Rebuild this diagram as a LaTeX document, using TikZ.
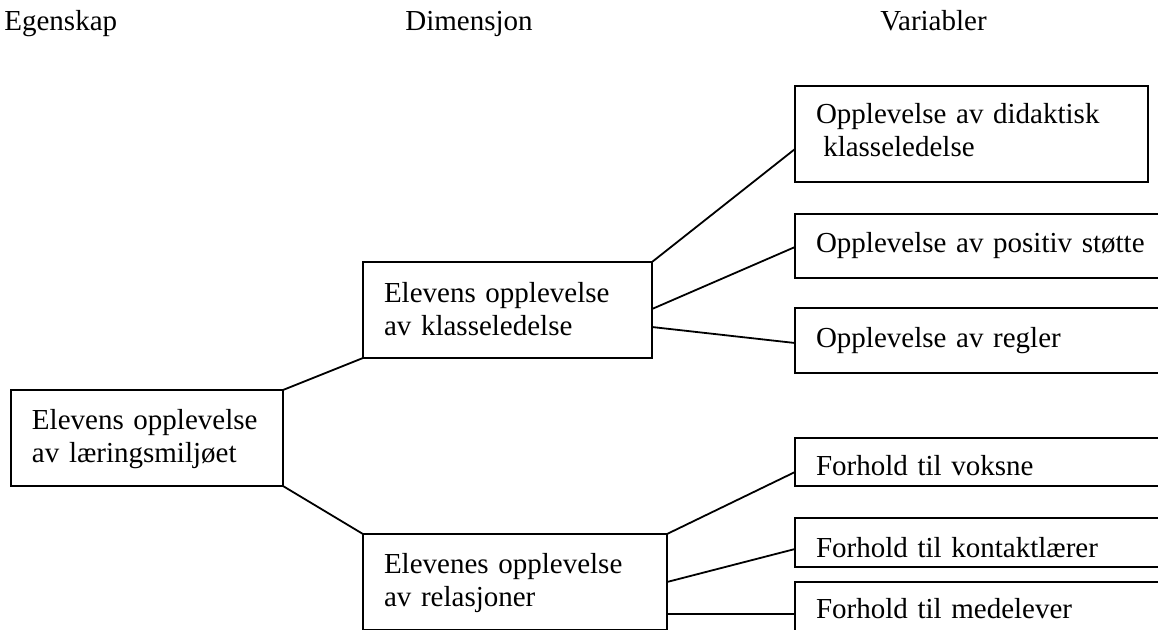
\documentclass[tikz,border=0pt]{standalone}
\usepackage{fontspec}
\setmainfont{Liberation Serif}
\usetikzlibrary{positioning,calc}
\tikzset{box/.style={draw, line width=0.9pt, align=left, anchor=north west, inner xsep=10.5pt, inner ysep=0pt, outer sep=0pt}}
\tikzset{link/.style={line width=0.9pt}}
\tikzset{head/.style={anchor=base west, inner sep=0pt}}

\begin{document}
\begin{tikzpicture}[x=0.5pt, y=-0.5pt, font=\fontsize{14.5}{16.5}\selectfont]
        \useasboundingbox (0,0) rectangle (1158,629);
        \clip (0,0) rectangle (1158,629);
        \tikzset{var/.style={box, text width=179pt}}

        %%% HEADINGS %%%
        \node[head] (hegen) at (4,30) {Egenskap};
        \node[head] (hdim) at (405,30) {Dimensjon};
        \node[head] (hvar) at (880,30) {Variabler};

        %%% EGENSKAP %%%
        \node[box, text width=115pt, text height=19.5pt, text depth=28.5pt] (root) at (11,390)
            {Elevens opplevelse\\av læringsmiljøet};

        %%% DIMENSJON %%%
        \node[box, text width=123.5pt, text height=20pt, text depth=28pt] (dim1) at (363,262)
            {Elevens opplevelse\\av klasseledelse};
        \node[box, text width=131pt, text height=19.5pt, text depth=28.5pt] (dim2) at (363,534)
            {Elevenes opplevelse\\av relasjoner};

        %%% VARIABLER %%%
        \node[box, text width=155.5pt, text height=18.5pt, text depth=29.5pt] (var1) at (795,86)
            {Opplevelse av didaktisk\\\hspace*{0.25em}klasseledelse};
        \node[var, text height=19pt, text depth=13pt] (var2) at (795,214) {Opplevelse av positiv støtte};
        \node[var, text height=19.5pt, text depth=13pt] (var3) at (795,308) {Opplevelse av regler};
        \node[var, text height=18.5pt, text depth=5.5pt] (var4) at (795,438) {Forhold til voksne};
        \node[var, text height=19.5pt, text depth=5pt] (var5) at (795,518) {Forhold til kontaktlærer};
        \node[var, text height=18pt, text depth=6.5pt] (var6) at (795,582) {Forhold til medelever};

        %%% LINKS %%%
        \draw[link] (root.north east) -- (dim1.south west);
        \draw[link] (root.south east) -- (dim2.north west);
        \draw[link] (dim1.north east) -- ($(var1.north west)+(0,63)$);
        \draw[link] ($(dim1.north east)+(0,47)$) -- ($(var2.north west)+(0,33)$);
        \draw[link] ($(dim1.north east)+(0,65)$) -- ($(var3.north west)+(0,35)$);
        \draw[link] (dim2.north east) -- ($(var4.north west)+(0,34)$);
        \draw[link] ($(dim2.north east)+(0,48)$) -- ($(var5.north west)+(0,31)$);
        \draw[link] ($(dim2.north east)+(0,80)$) -- ($(var6.north west)+(0,32)$);
    \end{tikzpicture}
\end{document}
